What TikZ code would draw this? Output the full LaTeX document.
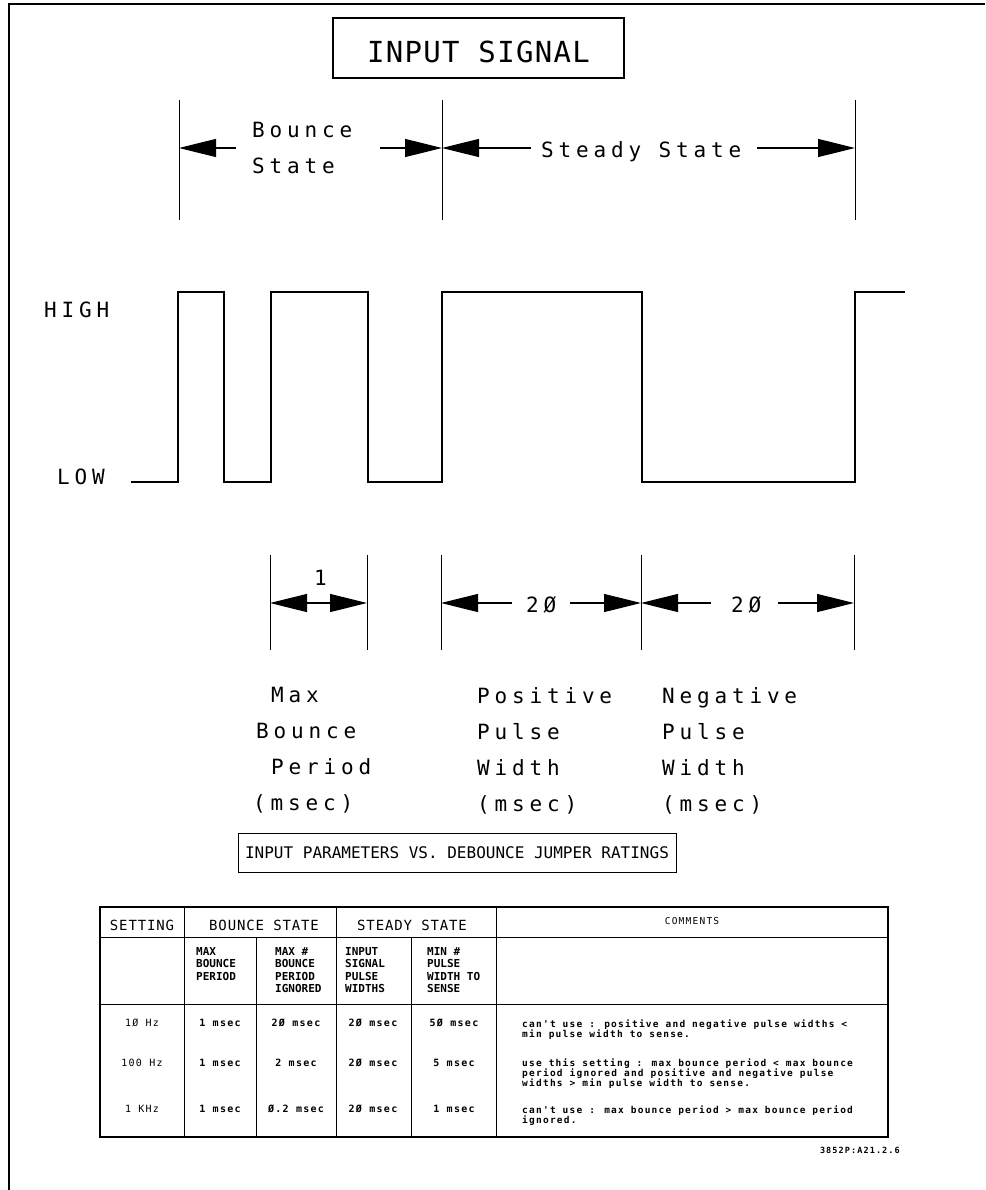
\documentclass[tikz,border=0pt]{standalone}
\usepackage{fontspec}
\usepackage{tikz}
\usetikzlibrary{positioning, arrows.meta}
\newfontfamily\ttlface{DejaVu Sans Mono}[LetterSpace=4.5]
\newfontfamily\lblface{DejaVu Sans Mono}[LetterSpace=23]
\newfontfamily\hdrface{DejaVu Sans Mono}[LetterSpace=6]
\newfontfamily\smlface{DejaVu Sans Mono}
\newfontfamily\tnyface{DejaVu Sans Mono}[LetterSpace=13]

\begin{document}
\begin{tikzpicture}[
        x=1pt, y=-1pt,
        border/.style = {line width=1.4pt},
        ttlbox/.style = {draw, line width=2.6pt, minimum width=291pt, minimum height=60pt, inner sep=0pt,
                         text height=30pt, text depth=0pt, font=\ttlface\fontsize{29}{34}\selectfont},
        lbl/.style    = {inner sep=0pt, anchor=base west, font=\lblface\fontsize{21}{36}\selectfont},
        stack/.style  = {lbl, anchor=north west, align=left},
        wave/.style   = {line width=1.8pt},
        guide/.style  = {line width=0.9pt},
        arrow/.style  = {-{Triangle[length=37pt, width=18pt]}, line width=1.2pt},
        capbox/.style = {draw, line width=1pt, minimum width=438pt, minimum height=39pt, inner sep=0pt,
                         font=\smlface\fontsize{16}{19}\selectfont},
        tblline/.style = {line width=0.8pt},
        hdr/.style    = {inner sep=0pt, anchor=base, font=\hdrface\fontsize{14}{16}\selectfont},
        sub/.style    = {inner sep=0pt, anchor=north west, align=left, font=\smlface\bfseries\fontsize{11}{12.5}\selectfont},
        val/.style    = {inner sep=0pt, anchor=base, font=\tnyface\bfseries\fontsize{10}{12}\selectfont},
        note/.style   = {inner sep=0pt, anchor=north west, align=left, font=\tnyface\bfseries\fontsize{9.5}{10}\selectfont},
    ]
    \path[fill=white, use as bounding box] (0,0) rectangle (985,1190);
    \draw[border] (9,1190) -- (9,4) -- (985,4);

    \node[ttlbox] (ttl) at (478.5,48) {INPUT SIGNAL};

    % bounce / steady state markers
    \coordinate (s0) at (179,148);
    \coordinate (s1) at (442,148);
    \coordinate (s2) at (855,148);
    \foreach \c in {s0,s1,s2} \draw[guide] (\c) ++(0,-48) -- ++(0,120);
    \node[stack] (bnc) at (252,122) {Bounce\\State};
    \node[lbl] (std) at (541,158) {Steady State};
    \coordinate (bncL) at (236,148);
    \coordinate (bncR) at (380,148);
    \coordinate (stdL) at (531,148);
    \coordinate (stdR) at (757,148);
    \draw[arrow] (bncL) -- (s0);
    \draw[arrow] (bncR) -- (s1);
    \draw[arrow] (stdL) -- (s1);
    \draw[arrow] (stdR) -- (s2);

    % signal
    \node[lbl] (hi) at (44,317) {HIGH};
    \node[lbl] (lo) at (57,484) {LOW};
    \draw[wave] (131,482) -| (178,292) -| (224,482) -| (271,292) -| (368,482)
        -| (442,292) -| (642,482) -| (855,292) -- (905,292);

    % widths
    \coordinate (d0) at (270,603);
    \coordinate (d1) at (367,603);
    \coordinate (d2) at (441,603);
    \coordinate (d3) at (641,603);
    \coordinate (d4) at (854,603);
    \foreach \c in {d0,d1,d2,d3,d4} \draw[guide] (\c) ++(0,-48) -- ++(0,95);
    \coordinate (w1) at (319,603);
    \coordinate (p1) at (512,603);
    \coordinate (p2) at (570,603);
    \coordinate (n1) at (711,603);
    \coordinate (n2) at (778,603);
    \draw[arrow] (w1) -- (d0);
    \draw[arrow] (w1) -- (d1);
    \draw[arrow] (p1) -- (d2);
    \draw[arrow] (p2) -- (d3);
    \draw[arrow] (n1) -- (d3);
    \draw[arrow] (n2) -- (d4);
    \node[lbl] (one) at (314,585) {1};
    \node[lbl] (pos) at (526,612) {2Ø};
    \node[lbl] (neg) at (731,612) {2Ø};

    \node[stack] (mbp) at (253,687) {\hspace*{18pt}Max\\\hspace*{3pt}Bounce\\\hspace*{18pt}Period\\(msec)};
    \node[stack] (ppw) at (477,687) {Positive\\Pulse\\Width\\(msec)};
    \node[stack] (npw) at (662,687) {Negative\\Pulse\\Width\\(msec)};

    % table
    \node[capbox] (cap) at (457,852.5) {INPUT PARAMETERS VS. DEBOUNCE JUMPER RATINGS};
    \draw[tblline, line width=1.2pt] (100,907) rectangle (888,1137);
    \draw[tblline] (100,937) -- (888,937);
    \draw[tblline] (100,1004) -- (888,1004);
    \foreach \x/\y in {184/907, 256/937, 336/907, 411/937, 496/907} \draw[tblline] (\x,\y) -- (\x,1137);

    \node[hdr] (hset) at (142,930) {SETTING};
    \node[hdr] (hbnc) at (264,930) {BOUNCE STATE};
    \node[hdr] (hstd) at (412,930) {STEADY STATE};
    \node[hdr, font=\tnyface\fontsize{9.5}{12}\selectfont] (hcmt) at (692,924) {COMMENTS};

    \node[sub] (sa) at (196,947) {MAX\\BOUNCE\\PERIOD};
    \node[sub] (sb) at (275,947) {MAX \#\\BOUNCE\\PERIOD\\IGNORED};
    \node[sub] (sc) at (345,947) {INPUT\\SIGNAL\\PULSE\\WIDTHS};
    \node[sub] (sd) at (427,947) {MIN \#\\PULSE\\WIDTH TO\\SENSE};

    \foreach \y/\f/\a/\b/\c/\d in {1026/1Ø Hz/1 msec/2Ø msec/2Ø msec/5Ø msec,
                                  1066/100 Hz/1 msec/2 msec/2Ø msec/5 msec,
                                  1112/1 KHz/1 msec/Ø.2 msec/2Ø msec/1 msec} {
        \node[val, font=\tnyface\fontsize{10}{12}\selectfont] (set-\y) at (142,\y) {\f};
        \node[val] (mbp-\y) at (220,\y) {\a};
        \node[val] (ign-\y) at (296,\y) {\b};
        \node[val] (ipw-\y) at (373,\y) {\c};
        \node[val] (mpw-\y) at (454,\y) {\d};
    }

    \node[note] (c1) at (522,1020) {can't use : positive and negative pulse widths <\\min pulse width to sense.};
    \node[note] (c2) at (522,1059) {use this setting : max bounce period < max bounce\\period ignored and positive and negative pulse\\widths > min pulse width to sense.};
    \node[note] (c3) at (522,1106) {can't use : max bounce period > max bounce period\\ignored.};

    \node[val, anchor=base east, font=\tnyface\bfseries\fontsize{8.5}{10}\selectfont] (ref) at (900,1153) {3852P:A21.2.6};
\end{tikzpicture}
\end{document}
